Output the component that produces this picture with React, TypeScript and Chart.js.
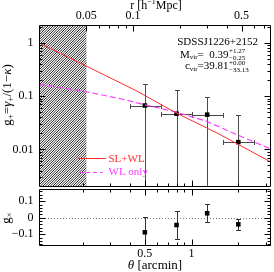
import { useEffect, useRef } from "react";
import Chart from "chart.js/auto";

// ---------------- data ----------------
const theta = [0.5, 0.8, 1.26, 2.0];
const thetaLo = [0.4, 0.635, 1.0, 1.59];
const thetaHi = [0.635, 1.0, 1.59, 2.52];
const gPlus = [0.0668, 0.0469, 0.045, 0.0137];
const gPlusErr = [0.101, 0.083, 0.053, 0.0305];
const gCross = [-0.088, -0.044, 0.027, -0.04];
const gCrossErr = [0.094, 0.085, 0.054, 0.032];

const slwlTheta = [0.104, 0.213, 0.437, 0.8, 1.5, 3.2];
const slwlG = [1.0, 0.36, 0.128, 0.048, 0.0195, 0.0059];
const wlTheta = [0.104, 0.213, 0.34, 0.5, 0.8, 1.24, 1.8, 3.2];
const wlG = [0.168, 0.12, 0.091, 0.069, 0.05, 0.034, 0.021, 0.0103];

const hatchThetaMax = 0.21;
const mpcPerArcmin = 0.2382;

const thetaMin = 0.104;
const thetaMax = 3.2;
const gMin = 0.00205;
const gMax = 2.18;
const gxMin = -0.165;
const gxMax = 0.174;

const thetaMajorTicks = [0.5, 1];
const thetaTickLabels = ["0.5", "1"];
const thetaMinorTicks = [0.2, 0.3, 0.4, 0.6, 0.7, 0.8, 0.9, 2, 3];
const rMajorTicks = [0.05, 0.1, 0.5];
const rTickLabels = ["0.05", "0.1", "0.5"];
const rMinorTicks = [0.06, 0.07, 0.08, 0.09, 0.2, 0.3, 0.4, 0.6, 0.7];
const gMajorTicks = [0.01, 0.1, 1];
const gTickLabels = ["0.01", "0.1", "1"];
const gMinorTicks = [
  0.003, 0.004, 0.005, 0.006, 0.007, 0.008, 0.009,
  0.02, 0.03, 0.04, 0.05, 0.06, 0.07, 0.08, 0.09,
  0.2, 0.3, 0.4, 0.5, 0.6, 0.7, 0.8, 0.9, 2,
];
const gxMajorTicks = [-0.1, 0, 0.1];
const gxTickLabels = ["\u22120.1", "0", "0.1"];
const gxMinorTicks = [
  -0.16, -0.14, -0.12, -0.08, -0.06, -0.04, -0.02,
  0.02, 0.04, 0.06, 0.08, 0.12, 0.14, 0.16,
];

// ---------------- styling ----------------
const FONT = '"Liberation Serif", "Times New Roman", serif';
const RED = "rgb(255,45,45)";
const MAGENTA = "rgb(255,60,255)";
const MAJ = 6;
const MIN = 3;

type Part = { t: string; s: number; dy?: number; it?: boolean };

function drawRich(ctx: any, parts: Part[], x: number, y: number, align: "left" | "center" | "right") {
  const font = (p: Part) => `${p.it ? "italic " : ""}${p.s}px ${FONT}`;
  let w = 0;
  parts.forEach((p) => {
    ctx.font = font(p);
    w += ctx.measureText(p.t).width;
  });
  let cx = align === "left" ? x : align === "center" ? x - w / 2 : x - w;
  ctx.textAlign = "left";
  ctx.textBaseline = "middle";
  parts.forEach((p) => {
    ctx.font = font(p);
    ctx.fillText(p.t, cx, y + (p.dy || 0));
    cx += ctx.measureText(p.t).width;
  });
}

const px = (v: number) => Math.round(v) + 0.5;

function frame(ctx: any, a: any) {
  const L = px(a.left), R = px(a.right), T = px(a.top), B = px(a.bottom);
  ctx.strokeStyle = "#000";
  ctx.lineWidth = 1;
  ctx.setLineDash([]);
  ctx.beginPath();
  ctx.moveTo(L, T);
  ctx.lineTo(R, T);
  ctx.lineTo(R, B);
  ctx.lineTo(L, B);
  ctx.closePath();
  ctx.stroke();
  return { L, R, T, B };
}

const mainPlugin = {
  id: "mainDecor",
  beforeDatasetsDraw(chart: any) {
    const { ctx, chartArea: a, scales } = chart;
    const x = scales.x, y = scales.y;
    // hatched excluded region
    const hx0 = a.left;
    const hx1 = x.getPixelForValue(hatchThetaMax);
    const H = a.bottom - a.top;
    ctx.save();
    ctx.beginPath();
    ctx.rect(hx0, a.top, hx1 - hx0, H);
    ctx.clip();
    ctx.strokeStyle = "#262626";
    ctx.lineWidth = 1;
    ctx.beginPath();
    for (let t = -H; t < hx1 - hx0 + 4; t += 2.5) {
      ctx.moveTo(hx0 + t, a.bottom);
      ctx.lineTo(hx0 + t + H, a.top);
    }
    ctx.stroke();
    ctx.restore();

    // error bars
    ctx.save();
    ctx.beginPath();
    ctx.rect(a.left, a.top, a.right - a.left, a.bottom - a.top);
    ctx.clip();
    ctx.strokeStyle = "#4a4a4a";
    ctx.lineWidth = 1;
    theta.forEach((t, i) => {
      const cx = px(x.getPixelForValue(t));
      const cy = px(y.getPixelForValue(gPlus[i]));
      const hi = gPlus[i] + gPlusErr[i];
      const lo = gPlus[i] - gPlusErr[i];
      const yHi = px(y.getPixelForValue(hi));
      const yLo = lo > 0 ? px(y.getPixelForValue(lo)) : a.bottom + 3;
      ctx.beginPath();
      ctx.moveTo(cx, yHi);
      ctx.lineTo(cx, yLo);
      ctx.moveTo(cx - 2.5, yHi);
      ctx.lineTo(cx + 2.5, yHi);
      if (lo > 0) {
        ctx.moveTo(cx - 2.5, yLo);
        ctx.lineTo(cx + 2.5, yLo);
      }
      const xl = px(x.getPixelForValue(thetaLo[i]));
      const xr = px(x.getPixelForValue(thetaHi[i]));
      ctx.moveTo(xl, cy);
      ctx.lineTo(xr, cy);
      ctx.moveTo(xl, cy - 2.5);
      ctx.lineTo(xl, cy + 2.5);
      ctx.moveTo(xr, cy - 2.5);
      ctx.lineTo(xr, cy + 2.5);
      ctx.stroke();
    });
    ctx.restore();
  },
  afterDraw(chart: any) {
    const { ctx, chartArea: a, scales } = chart;
    const x = scales.x, y = scales.y;
    ctx.save();
    const { L, R, T, B } = frame(ctx, a);
    ctx.beginPath();
    // top r axis
    const rx = (r: number) => px(x.getPixelForValue(r / mpcPerArcmin));
    rMajorTicks.forEach((r) => { const p = rx(r); ctx.moveTo(p, T); ctx.lineTo(p, T + MAJ); });
    rMinorTicks.forEach((r) => { const p = rx(r); ctx.moveTo(p, T); ctx.lineTo(p, T + MIN); });
    // bottom theta ticks
    thetaMajorTicks.forEach((v) => { const p = px(x.getPixelForValue(v)); ctx.moveTo(p, B); ctx.lineTo(p, B - MAJ); });
    thetaMinorTicks.forEach((v) => { const p = px(x.getPixelForValue(v)); ctx.moveTo(p, B); ctx.lineTo(p, B - MIN); });
    // left/right g ticks
    gMajorTicks.forEach((v) => {
      const p = px(y.getPixelForValue(v));
      ctx.moveTo(L, p); ctx.lineTo(L + MAJ, p);
      ctx.moveTo(R, p); ctx.lineTo(R - MAJ, p);
    });
    gMinorTicks.forEach((v) => {
      const p = px(y.getPixelForValue(v));
      ctx.moveTo(L, p); ctx.lineTo(L + MIN, p);
      ctx.moveTo(R, p); ctx.lineTo(R - MIN, p);
    });
    ctx.stroke();

    // tick labels
    ctx.fillStyle = "#000";
    ctx.font = `12px ${FONT}`;
    ctx.textBaseline = "middle";
    ctx.textAlign = "center";
    rMajorTicks.forEach((r, i) => ctx.fillText(rTickLabels[i], x.getPixelForValue(r / mpcPerArcmin), 16));
    ctx.textAlign = "right";
    gMajorTicks.forEach((v, i) => ctx.fillText(gTickLabels[i], 33.5, y.getPixelForValue(v)));

    // axis titles
    drawRich(ctx, [{ t: "r [h", s: 12 }, { t: "\u22121", s: 8, dy: -3.5 }, { t: "Mpc]", s: 12 }], 156, 5.5, "center");
    ctx.save();
    ctx.translate(8, 95);
    ctx.rotate(-Math.PI / 2);
    drawRich(
      ctx,
      [
        { t: "g", s: 13 },
        { t: "+", s: 9, dy: 3 },
        { t: "=", s: 13 },
        { t: "\u03b3", s: 13, it: true },
        { t: "+", s: 9, dy: 3 },
        { t: "/(1\u2212", s: 13 },
        { t: "\u03ba", s: 13, it: true },
        { t: ")", s: 13 },
      ],
      0,
      0,
      "center"
    );
    ctx.restore();

    // annotation
    drawRich(ctx, [{ t: "SDSSJ1226+2152", s: 11 }], 258, 42, "right");
    drawRich(ctx, [{ t: "M", s: 11 }, { t: "vir", s: 7, dy: 2.5 }, { t: "=  0.39", s: 11 }], 228.5, 55, "right");
    drawRich(ctx, [{ t: "+1.27", s: 7 }], 229, 51, "left");
    drawRich(ctx, [{ t: "\u22120.25", s: 7 }], 229, 58, "left");
    drawRich(ctx, [{ t: "c", s: 11 }, { t: "vir", s: 7, dy: 2.5 }, { t: "=39.81", s: 11 }], 228.5, 66.5, "right");
    drawRich(ctx, [{ t: "+0.00", s: 7 }], 229, 63.5, "left");
    drawRich(ctx, [{ t: "\u221233.13", s: 7 }], 229, 70.5, "left");

    // legend
    ctx.lineWidth = 1;
    ctx.strokeStyle = RED;
    ctx.beginPath();
    ctx.moveTo(78, 158.5);
    ctx.lineTo(106, 158.5);
    ctx.stroke();
    ctx.fillStyle = RED;
    drawRich(ctx, [{ t: "SL+WL", s: 11 }], 108.5, 159, "left");
    ctx.strokeStyle = MAGENTA;
    ctx.setLineDash([4, 3]);
    ctx.beginPath();
    ctx.moveTo(79, 172.5);
    ctx.lineTo(103, 172.5);
    ctx.stroke();
    ctx.setLineDash([]);
    ctx.fillStyle = MAGENTA;
    drawRich(ctx, [{ t: "WL only", s: 11 }], 108.5, 172.5, "left");
    ctx.restore();
  },
};

const resPlugin = {
  id: "resDecor",
  beforeDatasetsDraw(chart: any) {
    const { ctx, chartArea: a, scales } = chart;
    const x = scales.x, y = scales.y;
    ctx.save();
    ctx.strokeStyle = "#808080";
    ctx.lineWidth = 1;
    ctx.setLineDash([1, 2]);
    const z = px(y.getPixelForValue(0));
    ctx.beginPath();
    ctx.moveTo(a.left, z);
    ctx.lineTo(a.right, z);
    ctx.stroke();
    ctx.setLineDash([]);
    ctx.beginPath();
    ctx.rect(a.left, a.top, a.right - a.left, a.bottom - a.top);
    ctx.clip();
    ctx.strokeStyle = "#333";
    theta.forEach((t, i) => {
      const cx = px(x.getPixelForValue(t));
      const yHi = px(y.getPixelForValue(gCross[i] + gCrossErr[i]));
      const yLo = px(y.getPixelForValue(gCross[i] - gCrossErr[i]));
      ctx.beginPath();
      ctx.moveTo(cx, yHi);
      ctx.lineTo(cx, yLo);
      ctx.moveTo(cx - 2.5, yHi);
      ctx.lineTo(cx + 2.5, yHi);
      ctx.moveTo(cx - 2.5, yLo);
      ctx.lineTo(cx + 2.5, yLo);
      ctx.stroke();
    });
    ctx.restore();
  },
  afterDraw(chart: any) {
    const { ctx, chartArea: a, scales } = chart;
    const x = scales.x, y = scales.y;
    ctx.save();
    const { L, R, T, B } = frame(ctx, a);
    ctx.beginPath();
    thetaMajorTicks.forEach((v) => {
      const p = px(x.getPixelForValue(v));
      ctx.moveTo(p, T); ctx.lineTo(p, T + MAJ);
      ctx.moveTo(p, B); ctx.lineTo(p, B - MAJ);
    });
    thetaMinorTicks.forEach((v) => {
      const p = px(x.getPixelForValue(v));
      ctx.moveTo(p, T); ctx.lineTo(p, T + MIN);
      ctx.moveTo(p, B); ctx.lineTo(p, B - MIN);
    });
    gxMajorTicks.forEach((v) => {
      const p = px(y.getPixelForValue(v));
      ctx.moveTo(L, p); ctx.lineTo(L + MAJ, p);
      ctx.moveTo(R, p); ctx.lineTo(R - MAJ, p);
    });
    gxMinorTicks.forEach((v) => {
      const p = px(y.getPixelForValue(v));
      ctx.moveTo(L, p); ctx.lineTo(L + MIN, p);
      ctx.moveTo(R, p); ctx.lineTo(R - MIN, p);
    });
    ctx.stroke();

    ctx.fillStyle = "#000";
    ctx.font = `12px ${FONT}`;
    ctx.textBaseline = "middle";
    ctx.textAlign = "right";
    gxMajorTicks.forEach((v, i) => ctx.fillText(gxTickLabels[i], 33.5, y.getPixelForValue(v)));
    ctx.textAlign = "center";
    thetaMajorTicks.forEach((v, i) => ctx.fillText(thetaTickLabels[i], x.getPixelForValue(v), 69));
    drawRich(ctx, [{ t: "\u03b8", s: 13, it: true }, { t: " [arcmin]", s: 13 }], 155, 81, "center");
    ctx.save();
    ctx.translate(7, 33);
    ctx.rotate(-Math.PI / 2);
    drawRich(ctx, [{ t: "g", s: 13 }, { t: "\u00d7", s: 9, dy: 3 }], 0, 0, "center");
    ctx.restore();
    ctx.restore();
  },
};

function mainConfig(): any {
  return {
    type: "scatter",
    data: {
      datasets: [
        {
          label: "SL+WL",
          data: slwlTheta.map((t, i) => ({ x: t, y: slwlG[i] })),
          showLine: true,
          borderColor: RED,
          borderWidth: 1,
          pointRadius: 0,
          fill: false,
        },
        {
          label: "WL only",
          data: wlTheta.map((t, i) => ({ x: t, y: wlG[i] })),
          showLine: true,
          borderColor: MAGENTA,
          borderDash: [6, 3],
          borderWidth: 1.2,
          pointRadius: 0,
          fill: false,
        },
        {
          label: "g+",
          data: theta.map((t, i) => ({ x: t, y: gPlus[i] })),
          pointStyle: "rect",
          pointRadius: 3.2,
          backgroundColor: "#000",
          borderColor: "#000",
          borderWidth: 0,
        },
      ],
    },
    options: {
      animation: false,
      responsive: false,
      maintainAspectRatio: false,
      events: [],
      layout: { padding: { left: 39, top: 25, right: 1, bottom: 1 } },
      plugins: { legend: { display: false }, tooltip: { enabled: false } },
      scales: {
        x: { type: "logarithmic", min: thetaMin, max: thetaMax, display: false, bounds: "data" },
        y: { type: "logarithmic", min: gMin, max: gMax, display: false, bounds: "data" },
      },
    },
    plugins: [mainPlugin],
  };
}

function resConfig(): any {
  return {
    type: "scatter",
    data: {
      datasets: [
        {
          label: "gx",
          data: theta.map((t, i) => ({ x: t, y: gCross[i] })),
          pointStyle: "rect",
          pointRadius: 3.2,
          backgroundColor: "#000",
          borderColor: "#000",
          borderWidth: 0,
        },
      ],
    },
    options: {
      animation: false,
      responsive: false,
      maintainAspectRatio: false,
      events: [],
      layout: { padding: { left: 39, top: 4, right: 1, bottom: 27 } },
      plugins: { legend: { display: false }, tooltip: { enabled: false } },
      scales: {
        x: { type: "logarithmic", min: thetaMin, max: thetaMax, display: false, bounds: "data" },
        y: { type: "linear", min: gxMin, max: gxMax, display: false, bounds: "data" },
      },
    },
    plugins: [resPlugin],
  };
}

export default function App() {
  const mainRef = useRef<HTMLCanvasElement>(null);
  const resRef = useRef<HTMLCanvasElement>(null);
  useEffect(() => {
    let charts: any[] = [];
    let cancelled = false;
    const build = () => {
      if (cancelled || !mainRef.current || !resRef.current) return;
      charts.push(new Chart(mainRef.current, mainConfig()));
      charts.push(new Chart(resRef.current, resConfig()));
    };
    const fonts: any = (document as any).fonts;
    const ready = fonts
      ? Promise.all([fonts.load(`12px ${FONT}`), fonts.load(`italic 12px ${FONT}`)]).catch(() => null)
      : Promise.resolve(null);
    ready.then(build);
    return () => {
      cancelled = true;
      charts.forEach((c) => c.destroy());
      charts = [];
    };
  }, []);
  return (
    <div style={{ position: "absolute", left: 0, top: 0, width: 274, height: 272, background: "#fff" }}>
      <canvas
        ref={mainRef}
        width={274}
        height={190}
        style={{ position: "absolute", left: 0, top: 0, width: 274, height: 190 }}
      />
      <canvas
        ref={resRef}
        width={274}
        height={87}
        style={{ position: "absolute", left: 0, top: 185, width: 274, height: 87 }}
      />
    </div>
  );
}
